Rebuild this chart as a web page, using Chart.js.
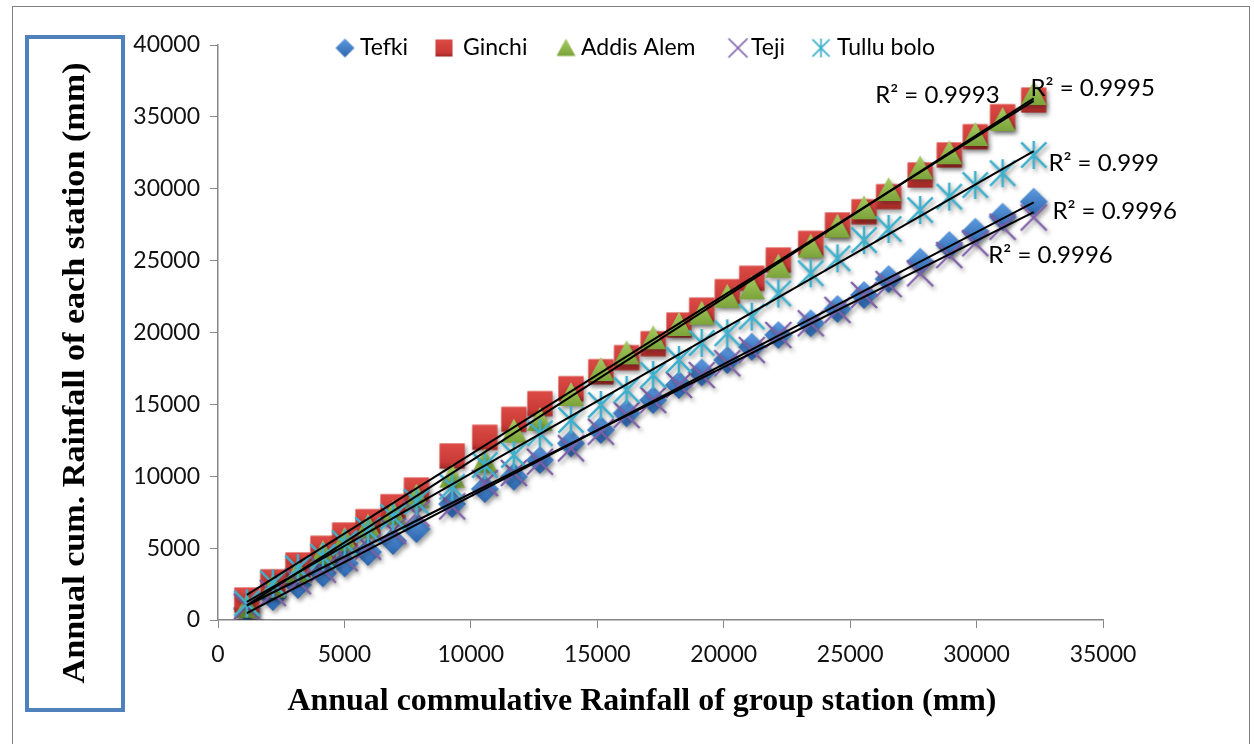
<!DOCTYPE html>
<html>
<head>
<meta charset="utf-8">
<script src="https://cdn.jsdelivr.net/npm/chart.js@4.4.1/dist/chart.umd.min.js"></script>
<style>
    html, body { margin: 0; padding: 0; background: #fff; }
    canvas { display: block; }
</style>
</head>
<body>
<canvas id="chart" width="1254" height="744"></canvas>
<script>
// annual cumulative rainfall of the group station (mm), shared x values
const groupRain = [1140, 2170, 3160, 4150, 5010, 5930, 6920, 7850, 9260, 10550,
    11700, 12730, 13960, 15140, 16160, 17210, 18230, 19130, 20140, 21110,
    22160, 23440, 24500, 25550, 26520, 27770, 28920, 29950, 31030, 32260];

// cumulative rainfall of each station (mm)
const tefki = [800, 1600, 2440, 3250, 3940, 4730, 5500, 6330, 8070, 9110,
    9970, 11130, 12290, 13220, 14380, 15300, 16350, 17220, 18090, 19010,
    19830, 20640, 21640, 22610, 23720, 24930, 26090, 27010, 28060, 29100];
const ginchi = [1390, 2660, 3830, 4990, 5910, 6840, 7880, 9040, 11410, 12710,
    13960, 15050, 16090, 17270, 18250, 19220, 20520, 21560, 22840, 23770,
    25040, 26200, 27480, 28400, 29450, 30960, 32350, 33620, 35010, 36170];
const addisAlem = [930, 2320, 3360, 4640, 5570, 6490, 7420, 8580, 9970, 11010,
    13100, 13910, 15650, 17390, 18550, 19600, 20520, 21300, 22490, 23080,
    24580, 25970, 27360, 28640, 29910, 31420, 32470, 33740, 34780, 36590];
const teji = [930, 1880, 2700, 3500, 4300, 5100, 6200, 7400, 7900, 9530,
    10230, 11010, 11940, 13100, 14260, 15300, 16350, 17040, 17860, 18780,
    19830, 20640, 21570, 22610, 23370, 24120, 25390, 26210, 27360, 28000];
const tulluBolo = [1160, 2550, 3600, 4400, 5340, 6260, 7190, 8230, 9270, 10780,
    11480, 12990, 13910, 14960, 16000, 17040, 18090, 19270, 19940, 21100,
    22720, 24120, 25160, 26430, 27200, 28520, 29450, 30260, 31080, 32350];

const seriesNames = ['Tefki', 'Ginchi', 'Addis Alem', 'Teji', 'Tullu bolo'];
const seriesValues = [tefki, ginchi, addisAlem, teji, tulluBolo];
const rSquared = ['0.9996', '0.9993', '0.9995', '0.9996', '0.999'];

const xTitle = 'Annual commulative Rainfall of group station (mm)';
const yTitle = 'Annual cum. Rainfall of each station (mm)';

// where the R² labels sit (left edge, middle), in axis units
const labelAnchors = [
    { x: 30460, y: 25390 },
    { x: 25990, y: 36520 },
    { x: 32130, y: 37010 },
    { x: 33000, y: 28450 },
    { x: 32840, y: 31790 },
];

// legend layout: marker centre and text start, in pixels
const legendMarkerX = [345, 444, 566, 738, 821];
const legendTextX = [360, 463, 581, 751, 837];

const markerKinds = ['diamond', 'square', 'triangle', 'cross', 'star'];

function makeMarker(kind, size) {
    const c = document.createElement('canvas');
    c.width = size + 4;
    c.height = size + 4;
    const g = c.getContext('2d');
    const m = c.width / 2;
    const h = size / 2;
    let grad;
    if (kind === 'diamond') {
        grad = g.createLinearGradient(0, m - h, 0, m + h);
        grad.addColorStop(0, '#5f9be0');
        grad.addColorStop(1, '#2b65ae');
        g.fillStyle = grad;
        g.beginPath();
        g.moveTo(m, m - h);
        g.lineTo(m + h, m);
        g.lineTo(m, m + h);
        g.lineTo(m - h, m);
        g.closePath();
        g.fill();
    } else if (kind === 'square') {
        const s = h * 0.9;
        grad = g.createLinearGradient(0, m - s, 0, m + s);
        grad.addColorStop(0, '#dd4b46');
        grad.addColorStop(0.75, '#c93a36');
        grad.addColorStop(1, '#a02825');
        g.fillStyle = grad;
        g.fillRect(m - s, m - s, 2 * s, 2 * s);
    } else if (kind === 'triangle') {
        grad = g.createLinearGradient(0, m - h, 0, m + h);
        grad.addColorStop(0, '#a8cc62');
        grad.addColorStop(1, '#77a036');
        g.fillStyle = grad;
        g.beginPath();
        g.moveTo(m, m - h);
        g.lineTo(m + h, m + h * 0.85);
        g.lineTo(m - h, m + h * 0.85);
        g.closePath();
        g.fill();
    } else if (kind === 'cross') {
        g.strokeStyle = '#7f5fa8';
        g.lineWidth = Math.max(1.5, size / 11);
        g.beginPath();
        g.moveTo(m - h, m - h);
        g.lineTo(m + h, m + h);
        g.moveTo(m + h, m - h);
        g.lineTo(m - h, m + h);
        g.stroke();
    } else {
        g.strokeStyle = '#3fb0cc';
        g.lineWidth = Math.max(1.5, size / 11);
        g.beginPath();
        g.moveTo(m, m - h);
        g.lineTo(m, m + h);
        g.moveTo(m - h * 0.9, m - h * 0.9);
        g.lineTo(m + h * 0.9, m + h * 0.9);
        g.moveTo(m + h * 0.9, m - h * 0.9);
        g.lineTo(m - h * 0.9, m + h * 0.9);
        g.stroke();
    }
    return c;
}

const markerSizes = [28, 28, 26, 26, 28];
const plotMarkers = markerKinds.map((k, i) => makeMarker(k, markerSizes[i]));
const legendMarkers = markerKinds.map((k) => makeMarker(k, 19));

function fitLine(xs, ys) {
    const n = xs.length;
    const mx = xs.reduce((a, b) => a + b, 0) / n;
    const my = ys.reduce((a, b) => a + b, 0) / n;
    let sxy = 0;
    let sxx = 0;
    for (let i = 0; i < n; i++) {
        sxy += (xs[i] - mx) * (ys[i] - my);
        sxx += (xs[i] - mx) * (xs[i] - mx);
    }
    const b = sxy / sxx;
    const a = my - b * mx;
    return (x) => a + b * x;
}

const xMin = Math.min(...groupRain);
const xMax = Math.max(...groupRain);

const datasets = [];
seriesValues.forEach((vals, i) => {
    datasets.push({
        label: seriesNames[i],
        data: groupRain.map((x, j) => ({ x: x, y: vals[j] })),
        pointStyle: plotMarkers[i],
        order: seriesValues.length - i,
        isMarker: true,
    });
});
seriesValues.forEach((vals, i) => {
    const f = fitLine(groupRain, vals);
    datasets.push({
        label: 'trend ' + seriesNames[i],
        data: [{ x: xMin, y: f(xMin) }, { x: xMax, y: f(xMax) }],
        showLine: true,
        borderColor: '#000',
        borderWidth: 2,
        pointRadius: 0,
        order: 0,
    });
});

const decorPlugin = {
    id: 'decor',
    beforeDraw(chart) {
        const ctx = chart.ctx;
        ctx.save();
        ctx.fillStyle = '#fff';
        ctx.fillRect(0, 0, chart.width, chart.height);
        ctx.strokeStyle = '#808080';
        ctx.lineWidth = 1;
        ctx.strokeRect(12.5, 6.5, 1237, 760);
        ctx.strokeStyle = '#4f81bd';
        ctx.lineWidth = 4;
        ctx.strokeRect(27, 37, 96, 673);
        ctx.restore();
    },
    beforeDatasetDraw(chart, args) {
        if (!args.meta._dataset.isMarker) return;
        const ctx = chart.ctx;
        ctx.save();
        ctx.shadowColor = 'rgba(0,0,0,0.38)';
        ctx.shadowBlur = 4;
        ctx.shadowOffsetX = 2;
        ctx.shadowOffsetY = 3;
    },
    afterDatasetDraw(chart, args) {
        if (!args.meta._dataset.isMarker) return;
        chart.ctx.restore();
    },
    afterDraw(chart) {
        const ctx = chart.ctx;
        const xs = chart.scales.x;
        const ys = chart.scales.y;
        ctx.save();
        // axis titles, bold serif, fitted to the reference length
        ctx.fillStyle = '#000';
        ctx.textAlign = 'center';
        ctx.textBaseline = 'middle';
        ctx.font = 'bold 31px "Liberation Serif", "Times New Roman", serif';
        let w = ctx.measureText(xTitle).width;
        ctx.save();
        ctx.translate(642, 702);
        ctx.scale(709 / w, 1);
        ctx.fillText(xTitle, 0, 0);
        ctx.restore();
        w = ctx.measureText(yTitle).width;
        ctx.save();
        ctx.translate(76, 373);
        ctx.rotate(-Math.PI / 2);
        ctx.scale(621 / w, 1);
        ctx.fillText(yTitle, 0, 0);
        ctx.restore();

        // legend
        ctx.font = '23px Lato, sans-serif';
        ctx.textAlign = 'left';
        const ly = 48;
        seriesNames.forEach((name, i) => {
            const img = legendMarkers[i];
            ctx.drawImage(img, legendMarkerX[i] - img.width / 2, ly - img.height / 2);
            ctx.fillText(name, legendTextX[i], ly);
        });

        // R² labels
        ctx.font = '24px Lato, sans-serif';
        labelAnchors.forEach((p, i) => {
            ctx.fillText('R\u00b2 = ' + rSquared[i], xs.getPixelForValue(p.x), ys.getPixelForValue(p.y));
        });
        ctx.restore();
    },
};

const axisGrey = '#868686';
new Chart(document.getElementById('chart'), {
    type: 'scatter',
    data: { datasets: datasets },
    options: {
        responsive: false,
        devicePixelRatio: 1,
        animation: false,
        layout: { padding: { top: 45, right: 151, left: 0, bottom: 0 } },
        plugins: {
            legend: { display: false },
            tooltip: { enabled: false },
        },
        scales: {
            x: {
                type: 'linear',
                min: 0,
                max: 35000,
                afterFit: (s) => { s.height = 124; },
                ticks: {
                    stepSize: 5000,
                    color: '#111',
                    padding: 13,
                    font: { family: 'Lato', size: 23 },
                    callback: (v) => String(v),
                },
                grid: { drawOnChartArea: false, color: axisGrey, tickLength: 8 },
                border: { color: axisGrey, width: 1.5 },
            },
            y: {
                type: 'linear',
                min: 0,
                max: 40000,
                afterFit: (s) => { s.width = 218; },
                ticks: {
                    stepSize: 5000,
                    color: '#111',
                    padding: 10,
                    font: { family: 'Lato', size: 23 },
                    callback: (v) => String(v),
                },
                grid: { drawOnChartArea: false, color: axisGrey, tickLength: 8 },
                border: { color: axisGrey, width: 1.5 },
            },
        },
    },
    plugins: [decorPlugin],
});
</script>
</body>
</html>
